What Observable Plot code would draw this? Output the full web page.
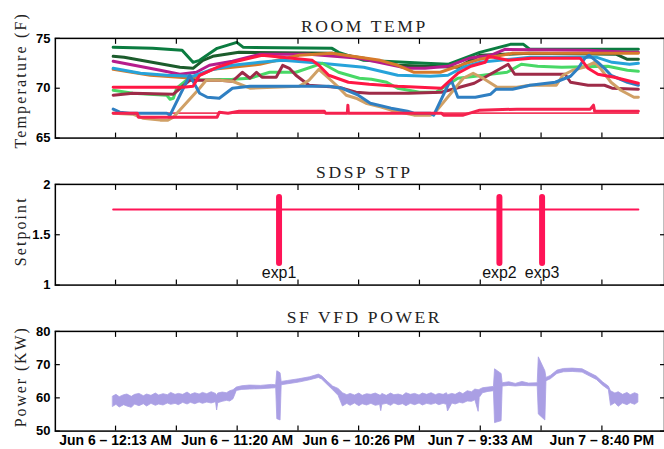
<!DOCTYPE html>
<html><head><meta charset="utf-8">
<script src="https://cdn.jsdelivr.net/npm/d3@7"></script>
<script src="https://cdn.jsdelivr.net/npm/@observablehq/plot@0.6"></script>
<style>
html,body{margin:0;padding:0;background:#fff;overflow:hidden}
#chart svg{display:block}
</style></head><body><div id="chart"></div>
<script>
// ---- x axis (hours since Jun 6 00:00) ----
const xTickValues = [0.2167, 5.775, 11.333, 16.892, 22.433, 27.992, 33.55, 39.108, 44.667];
const xTickLabels = ["Jun 6 \u2013 12:13 AM", "", "Jun 6 \u2013 11:20 AM", "", "Jun 6 \u2013 10:26 PM", "", "Jun 7 \u2013 9:33 AM", "", "Jun 7 \u2013 8:40 PM"];

// ---- ROOM TEMP series: [hour, °F] ----
const tFlat = [[0,67.5],[48,67.5]];
const tDarkGreen = [[0,73.2],[1,73.1],[6.1,72.1],[7.3,72.0],[8.2,72.8],[9.1,73.2],[11.5,73.6],[20,73.5],[22.9,73.0],[26,72.3],[31.5,72.1],[33.5,73.3],[38,73.5],[46,73.4],[47,72.9],[48,72.9]];
const tGreen = [[0,74.1],[3.6,74.0],[6.3,73.8],[7.3,72.6],[7.9,72.8],[9.5,74.0],[10.4,74.3],[11.3,74.6],[11.9,74.1],[20.0,74.0],[20.6,73.6],[22.9,72.8],[28.5,72.5],[30.6,72.4],[33.5,73.6],[36.3,74.4],[37.5,74.4],[38.1,73.9],[48,73.9]];
const tMagenta = [[0,72.7],[4.3,71.8],[6.1,71.4],[7.6,71.6],[8.8,72.3],[10.9,72.7],[13.4,73.4],[17.9,73.4],[22.5,73.0],[26.9,72.0],[28.5,72.0],[30.6,72.2],[32.5,73.0],[34.5,73.3],[35.8,73.9],[43.4,73.8],[47,73.6],[48,73.6]];
const tOrange = [[0,71.9],[3.4,71.3],[7.3,71.0],[9.1,71.9],[10.9,72.1],[13.4,72.4],[17,73.3],[20,73.5],[24.4,72.8],[26,72.3],[27.5,71.6],[29.9,71.6],[32,72.4],[33.5,72.9],[36.5,73.5],[48,73.5]];
const tCyan = [[0,72.0],[2.5,71.5],[4.9,71.3],[7.3,71.2],[8.8,71.8],[10.9,72.3],[13.4,72.6],[15.5,72.8],[19,72.5],[22.9,72.1],[26,71.3],[29,71.2],[30.6,71.3],[32,72.1],[33.5,72.6],[38.1,73.1],[44.2,73.1],[45.6,72.6],[47.2,72.4],[48,72.5]];
const tLightGreen = [[0,69.8],[1.8,69.5],[4.9,69.3],[5.2,68.9],[5.5,69.0],[5.8,70.0],[6.7,70.8],[10.9,70.9],[12.5,71.0],[14.3,71.6],[16.7,71.6],[19.1,72.5],[20.6,71.6],[22.5,71.0],[23.6,70.9],[25,70.6],[26,70.0],[28,69.6],[29.5,69.6],[31.5,71.0],[33.1,71.2],[34.5,71.4],[36,71.6],[37.3,72.4],[38.8,72.2],[41,72.1],[45.2,72.2],[47,71.8],[48,71.7]];
const tMaroon = [[0,69.3],[1.8,69.5],[5.5,69.4],[7.0,70.8],[9.7,70.8],[10.9,70.7],[11.8,71.6],[12.5,71.0],[13.1,71.6],[13.6,71.1],[14.9,71.1],[15.5,72.3],[16.1,72.0],[16.7,71.3],[17.9,70.3],[19.1,70.2],[20.6,70.1],[22.2,69.6],[23.4,69.5],[27,69.5],[30,69.6],[33,70.5],[36.1,72.4],[36.7,71.4],[41.3,71.4],[41.8,70.6],[43.4,70.3],[44.9,70.3],[45.6,70.0],[48,69.9]];
const tTan = [[0,67.5],[1.8,67.4],[2.7,67.0],[4.3,66.8],[5.0,66.8],[5.5,67.1],[7.9,70.0],[8.5,70.8],[9.7,70.8],[10.9,70.7],[12.5,70.0],[17.0,70.2],[17.9,70.8],[18.8,71.9],[19.5,71.2],[20.4,70.3],[21.3,69.3],[22.2,69.0],[23.1,68.5],[24.5,68.1],[25.4,67.8],[27.5,67.3],[29,67.3],[29.3,67.4],[32,71.0],[32.9,71.5],[33.8,71.0],[35.1,70.1],[36.9,70.1],[38.1,70.3],[40.5,70.3],[41.1,71.3],[42,71.8],[43,72.1],[44,72.6],[44.6,71.9],[45.5,70.6],[46.4,69.8],[47.6,69.1],[48,69.1]];
const tBlue = [[0,67.9],[0.6,67.6],[1.5,67.5],[4.9,67.5],[5.2,67.3],[7.0,71.3],[7.9,69.5],[8.6,69.1],[9.7,69.0],[10.9,70.0],[12.5,70.2],[19.7,70.2],[20.9,70.0],[21.3,69.8],[22.4,69.3],[23.5,68.5],[25.4,68.0],[26.9,67.7],[27.5,67.5],[29,67.5],[29.3,67.3],[30.6,70.3],[30.9,70.8],[31.5,69.1],[33.1,69.1],[34.5,69.4],[35,69.9],[36.5,69.9],[38.1,70.3],[40.4,70.6],[41.8,71.2],[42.5,72.0],[43.1,73.0],[43.5,73.3],[44.3,72.6],[44.9,72.0],[45.5,71.3],[47,70.6],[48,70.3]];
const tRed = [[0,70.1],[6.4,70.1],[7.3,70.2],[7.9,71.3],[9.5,72.1],[10.9,72.6],[13.6,73.3],[18.2,72.8],[18.8,72.3],[19.7,71.3],[21.5,70.6],[23.4,70.4],[26,70.2],[30,70.0],[31.5,71.5],[32.7,72.2],[34,72.6],[34.3,73.2],[36.1,72.8],[38.2,73.0],[42.7,73.0],[43.4,72.0],[44.3,71.4],[45.8,71.1],[48,70.5]];
const tCrimson = [[0,67.5],[2.2,67.5],[2.3,67.1],[9.5,67.1],[9.7,67.6],[10.5,67.5],[11.5,67.7],[19.3,67.7],[19.4,67.5],[21.4,67.5],[21.45,68.3],[21.5,67.5],[30,67.5],[30.2,67.3],[32,67.3],[33.5,67.8],[36.9,67.9],[43.6,67.9],[43.9,68.3],[44,67.7],[48,67.7]];

const tempNames = ["zone01","zone02","zone03","zone04","zone05","zone06","zone07","zone08","zone09","zone10","zone11"];
const tempSeries = [tDarkGreen,tGreen,tMagenta,tOrange,tCyan,tLightGreen,tMaroon,tTan,tBlue,tRed,tCrimson];
const tempColors = ["#1c5c2c","#0b7c40","#b61c8c","#d67a2a","#26a3da","#48d866","#9e2b48","#d0a066","#2f7fc2","#ff1744","#f5214e"];

// ---- SDSP STP ----
const spTime = [0, 48];
const spValue = [1.75, 1.75];
const expNames = ["exp1", "exp2", "exp3"];
const expTimes = [15.16, 35.3, 39.2];
const expLow = 1.215, expHigh = 1.87;

// ---- SF VFD POWER band: [hour, low KW, high KW] ----
const powerBand = [
[0,57.3,60.4],[0.3,57.9,60.9],[0.6,57.1,60.2],[1,57.8,60.8],[1.3,57.4,61.0],[1.7,57.0,60.3],[2,58.0,60.9],[2.4,57.5,61.2],
[2.8,58.1,60.5],[3.1,57.4,61.0],[3.5,58.2,60.6],[3.9,57.6,61.3],[4.2,58.0,60.7],[4.6,57.7,61.1],[5,58.3,60.8],[5.3,57.9,61.5],
[5.7,58.2,60.9],[6,57.8,61.2],[6.4,58.5,60.9],[6.8,58.0,61.6],[7.1,58.5,60.9],[7.5,58.1,61.4],[7.9,58.6,61.0],[8.2,58.2,61.5],
[8.6,58.6,61.1],[9,58.3,61.7],[9.4,58.7,61.2],[9.5,56.2,60.6],[9.6,58.4,61.3],[10,58.8,61.6],[10.4,59.1,61.4],[10.7,58.9,62.0],
[11,59.6,62.3],[11.3,62.1,63.1],[11.8,62.4,63.5],[12.5,62.5,63.7],[13.5,62.6,63.6],[14.5,62.8,63.9],[14.9,62.9,63.8],
[15.0,53.6,68.0],[15.3,53.2,67.4],[15.4,63.8,64.8],[16,64.1,65.1],[17,64.6,65.6],[18,65.3,66.2],[18.8,66.0,67.0],[19.1,65.5,66.5],
[19.6,63.9,64.9],[20.1,62.3,63.4],[20.6,60.6,62.7],[21,57.4,61.4],[21.4,58.2,60.8],[21.7,57.6,61.2],[22.1,58.3,60.7],[22.5,57.5,61.3],
[22.8,58.1,60.6],[23.2,57.7,61.1],[23.6,58.2,60.9],[24,57.6,61.3],[24.4,57.9,60.7],[24.5,56.0,60.7],[24.6,57.9,61.2],[25,58.2,60.6],
[25.4,57.6,61.3],[25.7,58.3,60.8],[26.1,57.8,61.0],[26.5,58.1,60.6],[26.8,57.5,61.4],[27.2,58.2,60.9],[27.6,57.8,61.2],[28,58.3,60.7],
[28.3,57.7,61.3],[28.7,58.2,60.9],[29.1,57.9,61.4],[29.5,58.3,60.8],[29.8,57.8,61.2],[30.2,58.2,60.9],[30.5,57.9,61.4],
[30.6,55.9,60.8],[31,58.3,61.2],[31.3,58.0,60.9],[31.7,58.5,61.6],[32,58.3,61.1],[32.4,58.9,62.0],[32.8,58.8,61.7],[33.1,59.3,62.5],[33.4,55.8,62.3],[33.5,60.0,62.4],
[33.8,61.4,62.9],[34.3,61.8,63.1],[34.8,62.0,63.3],[34.9,52.4,68.6],[35.5,53.0,67.2],[35.6,63.4,64.4],[36.2,63.6,64.7],[36.8,63.4,64.2],
[37.4,63.6,64.8],[38,63.5,64.3],[38.8,63.5,64.4],[38.9,55.0,72.2],[39.5,53.2,68.0],[39.6,65.0,66.0],[40,65.6,66.6],[40.6,67.2,68.2],
[41.2,67.7,68.7],[42,67.8,68.8],[42.9,67.6,68.6],[43.6,66.4,67.4],[44.2,65.4,66.4],[44.8,63.6,64.6],[45.3,62.4,63.4],[45.5,57.6,62.0],
[45.9,58.4,61.3],[46.2,57.3,61.7],[46.6,58.3,60.9],[47,57.8,61.5],[47.3,58.4,60.8],[47.7,57.9,61.4],[48,58.6,61.0]
];

const W = 666;
const xDomain = [-5.285, 50.387];

function panel(o) {
  const labelOf = new Map(xTickValues.map((v, i) => [v, o.showX ? xTickLabels[i] : ""]));
  return Plot.plot({
    width: W, height: o.height,
    marginLeft: 55, marginRight: 0, marginTop: o.mt, marginBottom: o.mb,
    style: {fontFamily: "'Liberation Sans', Arial, sans-serif", fontSize: "13px", fontWeight: "bold", color: "#000", background: "#fff", overflow: "visible"},
    x: {domain: xDomain},
    y: {domain: o.yDomain},
    color: o.color,
    marks: [
      ...o.marks,
      Plot.frame({stroke: "#000", strokeWidth: 1.5}),
      Plot.axisX({ticks: xTickValues, anchor: "bottom", tickSize: -5, tickPadding: 9, tickFormat: d => labelOf.get(d), fontSize: 14, label: null, strokeWidth: 1.2}),
      Plot.axisX({ticks: xTickValues, anchor: "top", tickSize: -5, tickFormat: () => "", label: null, strokeWidth: 1.2}),
      Plot.axisY({ticks: o.yTicks, anchor: "left", tickSize: -5, tickPadding: 10, tickFormat: d => `${d}`, label: null, strokeWidth: 1.2}),
      Plot.axisY({ticks: o.yTicks, anchor: "right", tickSize: -5, tickFormat: () => "", label: null, strokeWidth: 1.2}),
      Plot.text([o.title], {frameAnchor: "top", textAnchor: "middle", lineAnchor: "middle", dy: o.titleDy, dx: 4.5, fontFamily: "'Liberation Serif', serif", fontSize: 17.6, fontWeight: "normal", fill: "#222"}),
      Plot.text([o.ylabel], {frameAnchor: "left", textAnchor: "middle", lineAnchor: "middle", rotate: -90, dx: -35, dy: o.ylabelDy, fontFamily: "'Liberation Serif', serif", fontSize: 16, fontWeight: "normal", fill: "#222"})
    ]
  });
}

const tempRows = tempSeries.flatMap((pts, k) => pts.map(([h, v]) => ({name: tempNames[k], h, v})));
const flatRows = tFlat.map(([h, v]) => ({h, v}));

const p1 = panel({
  height: 149, mt: 38, mb: 11, yDomain: [65, 75], yTicks: [65, 70, 75],
  title: "ROOM TEMP", titleDy: -12, ylabel: "Temperature (F)", ylabelDy: -8, showX: false,
  color: {domain: tempNames, range: tempColors},
  marks: [
    Plot.line(flatRows, {x: "h", y: "v", stroke: "#f23c5c", strokeWidth: 1.6}),
    Plot.line(tempRows, {x: "h", y: "v", z: "name", stroke: "name", strokeWidth: 3, strokeLinejoin: "round"})
  ]
});

const spRows = spTime.map((t, i) => ({t, v: spValue[i]}));
const expRows = expNames.map((n, i) => ({n, t: expTimes[i]}));
const p2 = panel({
  height: 150, mt: 35, mb: 14, yDomain: [1, 2], yTicks: [1, 1.5, 2],
  title: "SDSP STP", titleDy: -11.6, ylabel: "Setpoint", ylabelDy: -3.5, showX: false,
  marks: [
    Plot.line(spRows, {x: "t", y: "v", stroke: "#ff1457", strokeWidth: 2}),
    Plot.ruleX(expRows, {x: "t", y1: expLow, y2: expHigh, stroke: "#ff1457", strokeWidth: 6, strokeLinecap: "round"}),
    Plot.text(expRows, {x: "t", y: 1.125, text: "n", fontSize: 16, fontWeight: "normal", fill: "#111"})
  ]
});

const p3 = panel({
  height: 150, mt: 33, mb: 17, yDomain: [50, 80], yTicks: [50, 60, 70, 80],
  title: "SF VFD POWER", titleDy: -13.6, ylabel: "Power (KW)", ylabelDy: -4.5, showX: true,
  marks: [
    Plot.areaY(powerBand, {x: d => d[0], y1: d => d[1], y2: d => d[2], fill: "#aa9fe4", stroke: "#aa9fe4", strokeWidth: 0.8})
  ]
});

const root = document.getElementById("chart");
for (const p of [p1, p2, p3]) root.appendChild(p);

// letter-spacing for the serif titles and y labels
const spaced = new Map([["ROOM TEMP", "2.6px"], ["SDSP STP", "2.6px"], ["SF VFD POWER", "2.6px"], ["Temperature (F)", "2.2px"], ["Setpoint", "2.1px"], ["Power (KW)", "1.9px"]]);
d3.select(root).selectAll("text").each(function() {
  const s = spaced.get(this.textContent);
  if (s) d3.select(this).style("letter-spacing", s);
});
</script>
</body></html>
